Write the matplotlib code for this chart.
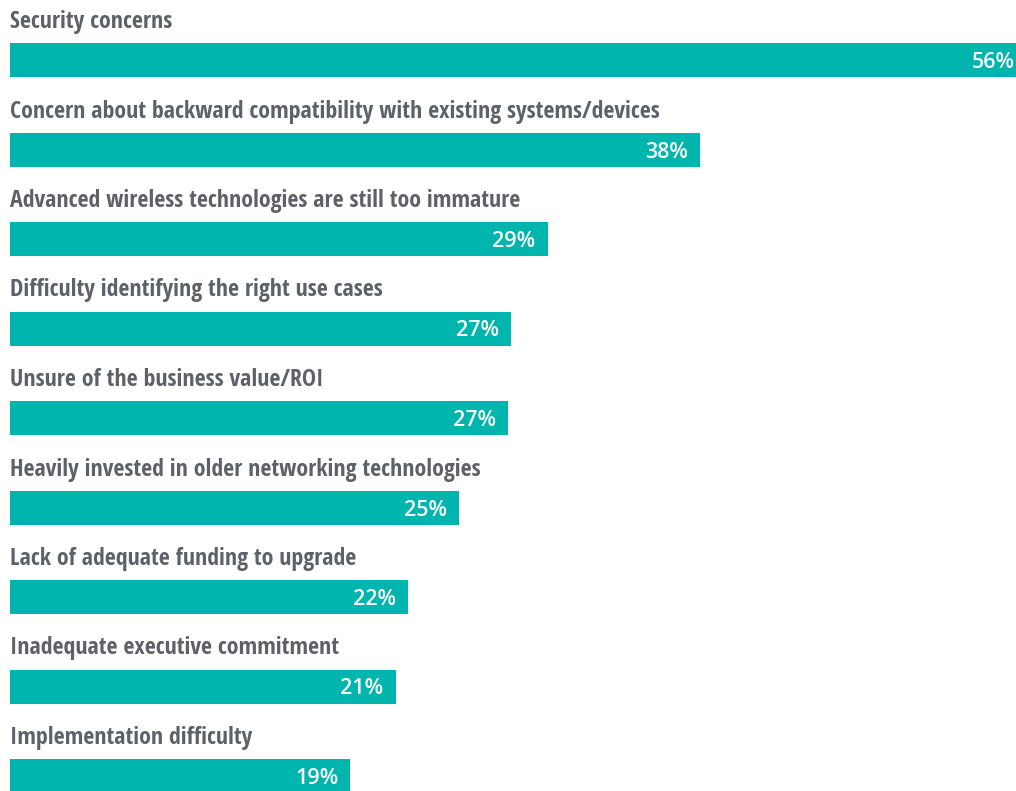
import matplotlib.pyplot as plt

categories = [
    "Security concerns",
    "Concern about backward compatibility with existing systems/devices",
    "Advanced wireless technologies are still too immature",
    "Difficulty identifying the right use cases",
    "Unsure of the business value/ROI",
    "Heavily invested in older networking technologies",
    "Lack of adequate funding to upgrade",
    "Inadequate executive commitment",
    "Implementation difficulty",
]
values = [56.2, 38.1, 29.7, 27.7, 27.5, 24.8, 22.0, 21.3, 18.8]
value_labels = ["56%", "38%", "29%", "27%", "27%", "25%", "22%", "21%", "19%"]

TEAL = "#00b5ad"
GREY = "#5f6068"

W, H = 1016, 791
fig = plt.figure(figsize=(W / 100, H / 100), dpi=100)
ax = fig.add_axes([10 / W, 0, 1 - 10 / W, 1])

px_per_pct = 18.1
ax.set_xlim(0, (W - 10) / px_per_pct)
ax.set_ylim(H, 0)
ax.axis("off")

row_gap = 89.5
bar_h = 34
for i, (cat, v, lab) in enumerate(zip(categories, values, value_labels)):
    yc = 60 + row_gap * i
    ax.barh(yc, v, height=bar_h, color=TEAL, edgecolor="none")
    ax.text(0, yc - bar_h / 2 - 15, cat, ha="left", va="baseline",
            fontsize=17.2, fontweight="bold", color=GREY,
            family=["Open Sans Condensed", "DejaVu Sans"])
    ax.text(v - 12 / px_per_pct, yc + 8, lab, ha="right", va="baseline",
            fontsize=15.5, fontweight="semibold", color="white",
            family=["Open Sans", "DejaVu Sans"])

fig.savefig("out.png", dpi=100)
